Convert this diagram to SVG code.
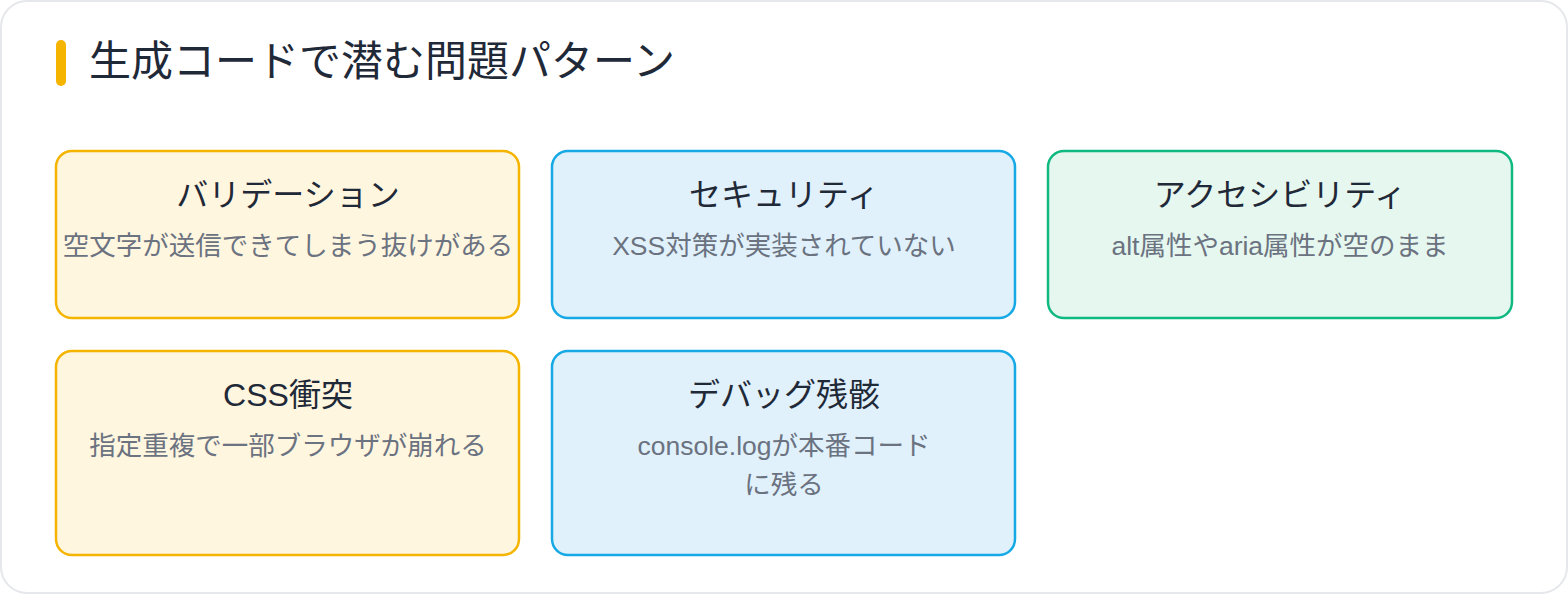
<svg xmlns="http://www.w3.org/2000/svg" width="1568" height="595" viewBox="0 0 1568 595">
<style>
.ttl{font-family:"Liberation Sans","Noto Sans CJK JP",sans-serif;font-size:32px;fill:#1f2937;text-anchor:middle}
.sub{font-family:"Liberation Sans","Noto Sans CJK JP",sans-serif;font-size:26.5px;fill:#6b7280;text-anchor:middle}
.y{fill:#fff6e0;stroke:#f5b400;stroke-width:2.5}
.b{fill:#e0f1fc;stroke:#16a9e6;stroke-width:2.5}
.g{fill:#e6f7ef;stroke:#10b981;stroke-width:2.5}
</style>
<rect x="1" y="1" width="1566" height="592" rx="26" fill="#ffffff" stroke="#e5e7eb" stroke-width="2"/>
<rect x="56" y="40" width="10" height="46" rx="5" fill="#f5b400"/>
<text x="89" y="76" font-family="'Noto Sans CJK JP','Noto Sans',sans-serif" font-size="42" fill="#1f2937">生成コードで潜む問題パターン</text>
<g id="connectors"></g>
<g id="n1"><rect class="y" x="56" y="151" width="463" height="167" rx="16"/><text class="ttl" x="288" y="206">バリデーション</text><text class="sub" x="288" y="255">空文字が送信できてしまう抜けがある</text></g>
<g id="n2"><rect class="b" x="552" y="151" width="463" height="167" rx="16"/><text class="ttl" x="784" y="206">セキュリティ</text><text class="sub" x="784" y="255">XSS対策が実装されていない</text></g>
<g id="n3"><rect class="g" x="1048" y="151" width="464" height="167" rx="16"/><text class="ttl" x="1280" y="206">アクセシビリティ</text><text class="sub" x="1280" y="255">alt属性やaria属性が空のまま</text></g>
<g id="n4"><rect class="y" x="56" y="351" width="463" height="204" rx="16"/><text class="ttl" x="288" y="406">CSS衝突</text><text class="sub" x="288" y="455">指定重複で一部ブラウザが崩れる</text></g>
<g id="n5"><rect class="b" x="552" y="351" width="463" height="204" rx="16"/><text class="ttl" x="784" y="406">デバッグ残骸</text><text class="sub" x="784" y="455">console.logが本番コード</text><text class="sub" x="784" y="494">に残る</text></g>
</svg>
